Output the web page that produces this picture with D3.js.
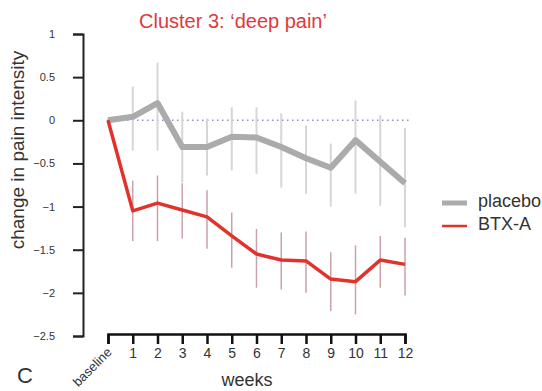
<!DOCTYPE html>
<html>
<head>
<meta charset="utf-8">
<script src="https://cdn.jsdelivr.net/npm/d3@7"></script>
<style>
  body { margin: 0; background: #fff; }
  text { font-family: "Liberation Sans", Arial, sans-serif; }
</style>
</head>
<body>
<script>
// weeks, 0 = baseline
const weeks = [0, 1, 2, 3, 4, 5, 6, 7, 8, 9, 10, 11, 12];
const weekLabels = ["baseline", "1", "2", "3", "4", "5", "6", "7", "8", "9", "10", "11", "12"];
const yTicks = [1, 0.5, 0, -0.5, -1, -1.5, -2, -2.5];

const placeboMean  = [0, 0.04, 0.20, -0.31, -0.31, -0.19, -0.20, -0.31, -0.44, -0.55, -0.23, -0.48, -0.73];
const placeboUpper = [0, 0.39, 0.67, 0.10, 0.02, 0.15, 0.15, 0.08, -0.06, -0.27, 0.23, 0.06, -0.09];
const placeboLower = [0, -0.35, -0.35, -0.72, -0.64, -0.58, -0.62, -0.78, -0.85, -1.00, -0.85, -0.99, -1.24];

const btxMean  = [0, -1.05, -0.96, -1.04, -1.12, -1.34, -1.55, -1.62, -1.63, -1.84, -1.87, -1.62, -1.67];
const btxUpper = [0, -0.70, -0.64, -0.73, -0.81, -1.07, -1.26, -1.30, -1.29, -1.53, -1.45, -1.34, -1.36];
const btxLower = [0, -1.40, -1.40, -1.37, -1.49, -1.71, -1.94, -1.96, -2.00, -2.21, -2.25, -1.94, -2.03];

const svg = d3.select("body").append("svg")
              .attr("width", 542)
              .attr("height", 391);

const x = d3.scaleLinear().domain([0, 12]).range([108, 405]);
const y = d3.scaleLinear().domain([-2.5, 1]).range([336, 34]);

// zero reference line
svg.append("line")
   .attr("x1", 107).attr("x2", 410)
   .attr("y1", y(0)).attr("y2", y(0))
   .attr("stroke", "#8796bd")
   .attr("stroke-width", 1.5)
   .attr("stroke-dasharray", "1.5,3.5");

function drawSeries(mean, upper, lower, lineColor, barColor, lineWidth, barWidth) {
  const pts = weeks.map((w, i) => ({ w, m: mean[i], u: upper[i], l: lower[i] }));

  // error bars first so the line sits on top
  svg.append("g").selectAll("line")
     .data(pts.filter(d => d.u !== d.l))
     .enter()
     .append("line")
     .attr("x1", d => x(d.w))
     .attr("x2", d => x(d.w))
     .attr("y1", d => y(d.u))
     .attr("y2", d => y(d.l))
     .attr("stroke", barColor)
     .attr("stroke-width", barWidth);

  svg.append("path")
     .datum(pts)
     .attr("fill", "none")
     .attr("stroke", lineColor)
     .attr("stroke-width", lineWidth)
     .attr("stroke-linejoin", "round")
     .attr("d", d3.line().x(d => x(d.w)).y(d => y(d.m)));
}

drawSeries(placeboMean, placeboUpper, placeboLower, "#ababab", "#d6d6d6", 6, 2);
drawSeries(btxMean, btxUpper, btxLower, "#e0332b", "#c9a2aa", 3.5, 1.5);

// y axis
const yAxis = svg.append("g")
   .attr("transform", "translate(83,0)")
   .call(d3.axisLeft(y).tickValues(yTicks).tickSize(10).tickPadding(18)
           .tickFormat(d => d3.format("")(d)));
yAxis.select(".domain").attr("stroke", "#222").attr("stroke-width", 2);
yAxis.selectAll(".tick line").attr("stroke", "#222").attr("stroke-width", 2);
yAxis.selectAll(".tick text").attr("font-size", 11).attr("fill", "#333")
     .attr("font-family", "'Liberation Sans', Arial, sans-serif");

// x axis
const xAxis = svg.append("g")
   .attr("transform", "translate(0,334)")
   .call(d3.axisBottom(x).tickValues(weeks).tickSize(10).tickPadding(4)
           .tickFormat((d, i) => weekLabels[i]));
xAxis.select(".domain").attr("stroke", "#111").attr("stroke-width", 2.5);
xAxis.selectAll(".tick line").attr("stroke", "#111").attr("stroke-width", 2.5);
xAxis.selectAll(".tick text").attr("font-size", 14).attr("fill", "#333")
     .attr("font-family", "'Liberation Sans', Arial, sans-serif");
// baseline label runs diagonally
xAxis.selectAll(".tick text")
     .filter((d, i) => i === 0)
     .attr("font-size", 13)
     .attr("text-anchor", "end")
     .attr("y", 0)
     .attr("dy", 0)
     .attr("transform", "translate(4,19) rotate(-45)");

// titles and labels
svg.append("text")
   .attr("x", 233).attr("y", 28)
   .attr("text-anchor", "middle")
   .attr("font-size", 20)
   .attr("fill", "#e0393c")
   .text("Cluster 3: \u2018deep pain\u2019");

svg.append("text")
   .attr("transform", "translate(24,150) rotate(-90)")
   .attr("text-anchor", "middle")
   .attr("font-size", 19)
   .attr("fill", "#333")
   .text("change in pain intensity");

svg.append("text")
   .attr("x", 247).attr("y", 386)
   .attr("text-anchor", "middle")
   .attr("font-size", 18)
   .attr("fill", "#333")
   .text("weeks");

svg.append("text")
   .attr("x", 17).attr("y", 383)
   .attr("font-size", 22)
   .attr("fill", "#333")
   .text("C");

// legend
const legend = [
  { name: "placebo", color: "#ababab", width: 5, y: 203 },
  { name: "BTX-A", color: "#e0332b", width: 2.5, y: 226 }
];
const lg = svg.append("g").selectAll("g").data(legend).enter().append("g");
lg.append("line")
  .attr("x1", 442).attr("x2", 467)
  .attr("y1", d => d.y).attr("y2", d => d.y)
  .attr("stroke", d => d.color)
  .attr("stroke-width", d => d.width);
lg.append("text")
  .attr("x", 478).attr("y", d => d.y + 4)
  .attr("font-size", 18)
  .attr("fill", "#333")
  .text(d => d.name);
</script>
</body>
</html>
